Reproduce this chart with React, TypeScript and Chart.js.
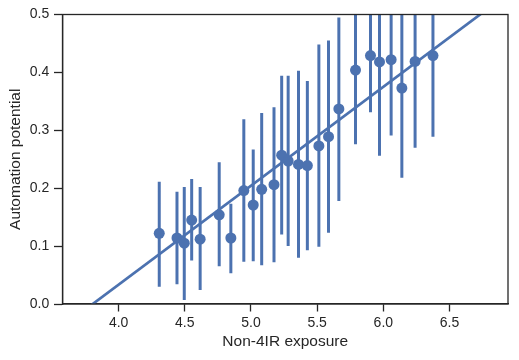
import React, { useEffect, useRef } from "react";
import { Chart, registerables } from "chart.js";

Chart.register(...registerables);

const xVals = [4.307, 4.441, 4.496, 4.552, 4.616, 4.760, 4.848, 4.946, 5.017, 5.081, 5.174, 5.232, 5.281, 5.359, 5.426, 5.513, 5.586, 5.664, 5.790, 5.903, 5.971, 6.059, 6.140, 6.240, 6.375];
const yMeans = [0.122, 0.114, 0.105, 0.145, 0.112, 0.154, 0.114, 0.196, 0.171, 0.198, 0.206, 0.257, 0.247, 0.241, 0.239, 0.273, 0.289, 0.337, 0.404, 0.429, 0.418, 0.422, 0.373, 0.419, 0.429];
const ciLow = [0.030, 0.034, 0.007, 0.075, 0.024, 0.065, 0.053, 0.073, 0.074, 0.067, 0.072, 0.120, 0.100, 0.080, 0.093, 0.099, 0.123, 0.178, 0.276, 0.331, 0.256, 0.291, 0.218, 0.270, 0.289];
const ciHigh = [0.211, 0.194, 0.202, 0.216, 0.202, 0.245, 0.173, 0.319, 0.267, 0.330, 0.340, 0.394, 0.394, 0.403, 0.385, 0.448, 0.455, 0.495, 0.53, 0.53, 0.58, 0.55, 0.53, 0.57, 0.57];

const fitX = [3.576, 6.942];
const fitY = [-0.039, 0.536];

const xTicks = [4.0, 4.5, 5.0, 5.5, 6.0, 6.5];
const yTicks = [0.0, 0.1, 0.2, 0.3, 0.4, 0.5];

const BLUE = "#4C72B0";
const DARK = "#262626";
const FONT = "'Liberation Sans', Arial, sans-serif";

const framePlugin = {
  id: "frame",
  afterDraw(chart: any) {
    const { ctx, chartArea } = chart;
    ctx.save();
    ctx.strokeStyle = DARK;
    ctx.lineWidth = 1.3;
    ctx.strokeRect(chartArea.left, chartArea.top, chartArea.right - chartArea.left, chartArea.bottom - chartArea.top);
    ctx.restore();
  },
};

export default function App() {
  const ref = useRef<HTMLCanvasElement>(null);
  useEffect(() => {
    document.body.style.margin = "0";
    const errData: any[] = [];
    xVals.forEach((x, i) => {
      errData.push({ x, y: ciLow[i] });
      errData.push({ x, y: ciHigh[i] });
      errData.push({ x, y: null });
    });
    const chart = new Chart(ref.current!, {
      type: "scatter",
      data: {
        datasets: [
          {
            data: errData,
            showLine: true,
            spanGaps: false,
            borderColor: BLUE,
            borderWidth: 3,
            borderCapStyle: "butt",
            pointRadius: 0,
            order: 3,
          } as any,
          {
            data: xVals.map((x, i) => ({ x, y: yMeans[i] })),
            backgroundColor: BLUE,
            borderColor: BLUE,
            borderWidth: 0,
            pointRadius: 5.5,
            order: 2,
          },
          {
            data: fitX.map((x, i) => ({ x, y: fitY[i] })),
            showLine: true,
            borderColor: BLUE,
            borderWidth: 2.7,
            pointRadius: 0,
            order: 1,
          } as any,
        ],
      },
      options: {
        animation: false,
        responsive: false,
        layout: { padding: { left: 0, top: 14.5, right: 11, bottom: 0 } },
        plugins: { legend: { display: false }, tooltip: { enabled: false } },
        scales: {
          x: {
            type: "linear",
            min: 3.576,
            max: 6.942,
            afterBuildTicks: (s: any) => { s.ticks = xTicks.map((v) => ({ value: v })); },
            afterFit: (s: any) => { s.height = 56; },
            grid: { drawOnChartArea: false, drawTicks: true, tickLength: 7.5, tickColor: DARK, tickWidth: 1.3 },
            border: { display: true, color: DARK, width: 1.3 },
            ticks: { color: DARK, font: { family: FONT, size: 14 }, padding: 3, callback: (v: any) => Number(v).toFixed(1) },
            title: { display: true, text: "Non-4IR exposure", color: DARK, font: { family: FONT, size: 15.5 }, padding: 9 },
          },
          y: {
            type: "linear",
            min: 0,
            max: 0.5,
            afterBuildTicks: (s: any) => { s.ticks = yTicks.map((v) => ({ value: v })); },
            afterFit: (s: any) => { s.width = 62.5; },
            grid: { drawOnChartArea: false, drawTicks: true, tickLength: 8.5, tickColor: DARK, tickWidth: 1.3 },
            border: { display: true, color: DARK, width: 1.3 },
            ticks: { color: DARK, font: { family: FONT, size: 14 }, padding: 4.7, callback: (v: any) => Number(v).toFixed(1) },
            title: { display: true, text: "Automation potential", color: DARK, font: { family: FONT, size: 15.5 }, padding: 6 },
          },
        },
      },
      plugins: [framePlugin],
    });
    return () => chart.destroy();
  }, []);
  return (
    <div style={{ position: "fixed", left: 0, top: 0, width: 519, height: 360, background: "#fff" }}>
      <canvas ref={ref} width={519} height={360} />
    </div>
  );
}
